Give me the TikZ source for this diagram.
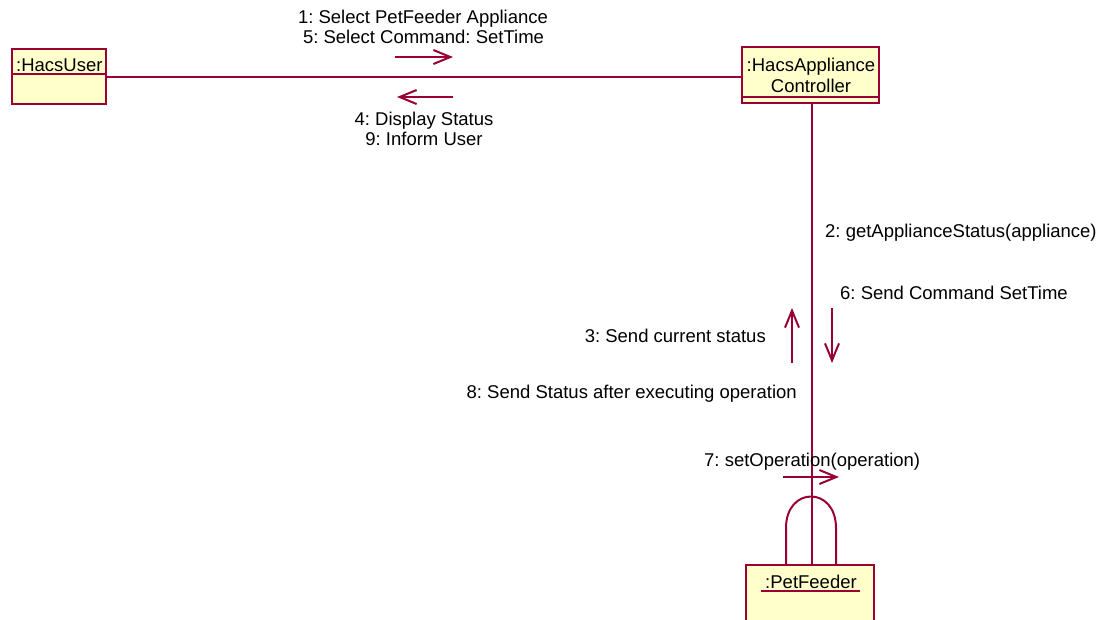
\documentclass[tikz,border=0pt]{standalone}
\usepackage{fontspec}
\setmainfont{Liberation Sans}
\usetikzlibrary{arrows.meta}
\definecolor{umlred}{RGB}{153,0,51}
\definecolor{umlfill}{RGB}{255,255,204}
\frenchspacing
\begin{document}
\frenchspacing
\begin{tikzpicture}[x=1pt,y=-1pt,
  obj/.style={draw=umlred, fill=umlfill, line width=2pt, inner sep=0pt},
  lbl/.style={inner sep=0pt, font=\fontsize{18.5}{20.5}\selectfont},
  link/.style={draw=umlred, line width=2pt},
  msg/.style={draw=umlred, line width=2pt, -{Straight Barb[length=17pt,width=14pt]}},
]
\useasboundingbox (0,0) rectangle (1101,619);
\clip (0,0) rectangle (1101,619);

% objects
\node[obj, minimum width=94pt, minimum height=55pt] (user) at (59,76.5) {};
\node[obj, minimum width=137pt, minimum height=56pt] (ctrl) at (810.5,75) {};
\node[obj, minimum width=128pt, minimum height=70pt] (pet) at (810,600) {};

\node[lbl, anchor=base west] (usert) at (16,71) {:HacsUser};
\draw[link] (user.west |- 0,74) -- (user.east |- 0,74);

\node[lbl, anchor=base] (ctrlt1) at (811,71) {:HacsAppliance};
\node[lbl, anchor=base] (ctrlt2) at (811,92) {Controller};
\draw[link] (ctrl.west |- 0,97) -- (ctrl.east |- 0,97);

\node[lbl, anchor=base] (pett) at (811,588) {:PetFeeder};
\draw[link] (761,591) -- (860,591);

% links
\draw[link] (user.east |- 0,77) -- (ctrl.west |- 0,77);
\draw[link] (ctrl.south -| 812,0) -- (pet.north -| 812,0);
\draw[link] (786,565) -- (786,528) .. controls (786,486) and (836,486) .. (836,528) -- (836,565);

% messages
\coordinate (m1s) at (395,57);   \coordinate (m1e) at (453,57);
\coordinate (m4s) at (453,97);   \coordinate (m4e) at (397,97);
\coordinate (m3s) at (792,363);  \coordinate (m3e) at (792,308);
\coordinate (m6s) at (832,308);  \coordinate (m6e) at (832,363);
\coordinate (m7s) at (783,477);  \coordinate (m7e) at (839,477);
\draw[msg] (m1s) -- (m1e);
\draw[msg] (m4s) -- (m4e);
\draw[msg] (m3s) -- (m3e);
\draw[msg] (m6s) -- (m6e);
\draw[msg] (m7s) -- (m7e);

% labels
\node[lbl, anchor=base] (l1) at (423,23.5) {1: Select PetFeeder Appliance};
\node[lbl, anchor=base] (l5) at (423.5,43.5) {5: Select Command: SetTime};
\node[lbl, anchor=base] (l4) at (424,125) {4: Display Status};
\node[lbl, anchor=base] (l9) at (424,145) {9: Inform User};
\node[lbl, anchor=base west] (l2) at (825,237) {2: getApplianceStatus(appliance)};
\node[lbl, anchor=base west] (l6) at (840,299) {6: Send Command SetTime};
\node[lbl, anchor=base east] (l3) at (766,342) {3: Send current status};
\node[lbl, anchor=base east] (l8) at (797,398) {8: Send Status after executing operation};
\node[lbl, anchor=base west] (l7) at (704,466) {7: setOperation(operation)};
\end{tikzpicture}
\end{document}
